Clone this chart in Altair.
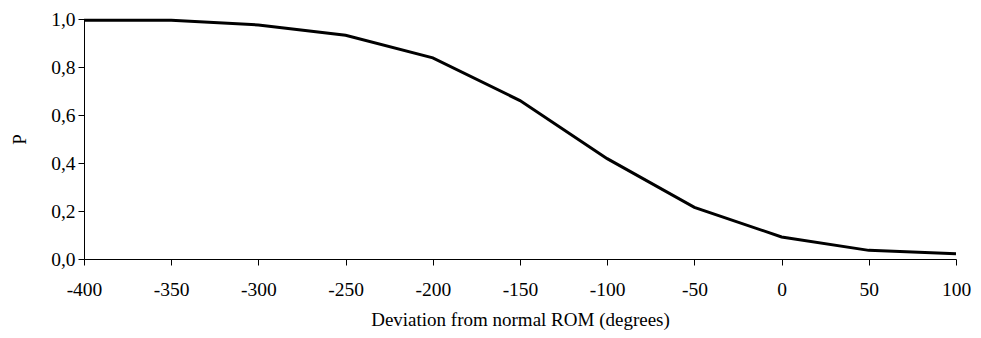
import altair as alt
import pandas as pd

deviation = [-400, -350, -300, -250, -200, -150, -100, -50, 0, 50, 100]
prob = [0.995, 0.995, 0.975, 0.932, 0.838, 0.660, 0.418, 0.215, 0.092, 0.036, 0.022]
x_ticks = [-400, -350, -300, -250, -200, -150, -100, -50, 0, 50, 100]
y_ticks = [0.0, 0.2, 0.4, 0.6, 0.8, 1.0]

df = pd.DataFrame({"dev": deviation, "p": prob})

FONT = "Liberation Serif"

chart = alt.Chart(df).mark_line(color="black", strokeWidth=3).encode(
    x=alt.X("dev:Q",
            scale=alt.Scale(domain=[-400, 100], nice=False, zero=False),
            axis=alt.Axis(values=x_ticks, title="Deviation from normal ROM (degrees)",
                          grid=False, tickSize=6, labelPadding=15, titlePadding=12,
                          labelExpr="datum.value")),
    y=alt.Y("p:Q",
            scale=alt.Scale(domain=[0, 1], nice=False),
            axis=alt.Axis(values=y_ticks, title="P", grid=False, tickSize=6,
                          labelPadding=3, titlePadding=21,
                          labelExpr="replace(format(datum.value, '.1f'), '.', ',')")),
).properties(
    width=872, height=240,
    autosize=alt.AutoSizeParams(type="none"),
    padding={"left": 76, "top": 11, "right": 17, "bottom": 71},
).configure_axis(
    labelFont=FONT, titleFont=FONT, labelFontSize=19.5, titleFontSize=19,
    labelColor="black", titleColor="black", domainColor="black", tickColor="black",
    titleFontWeight="normal", labelFlush=False,
).configure_view(stroke=None)

chart.save("out.html", embed_options={"renderer": "svg", "actions": False})
